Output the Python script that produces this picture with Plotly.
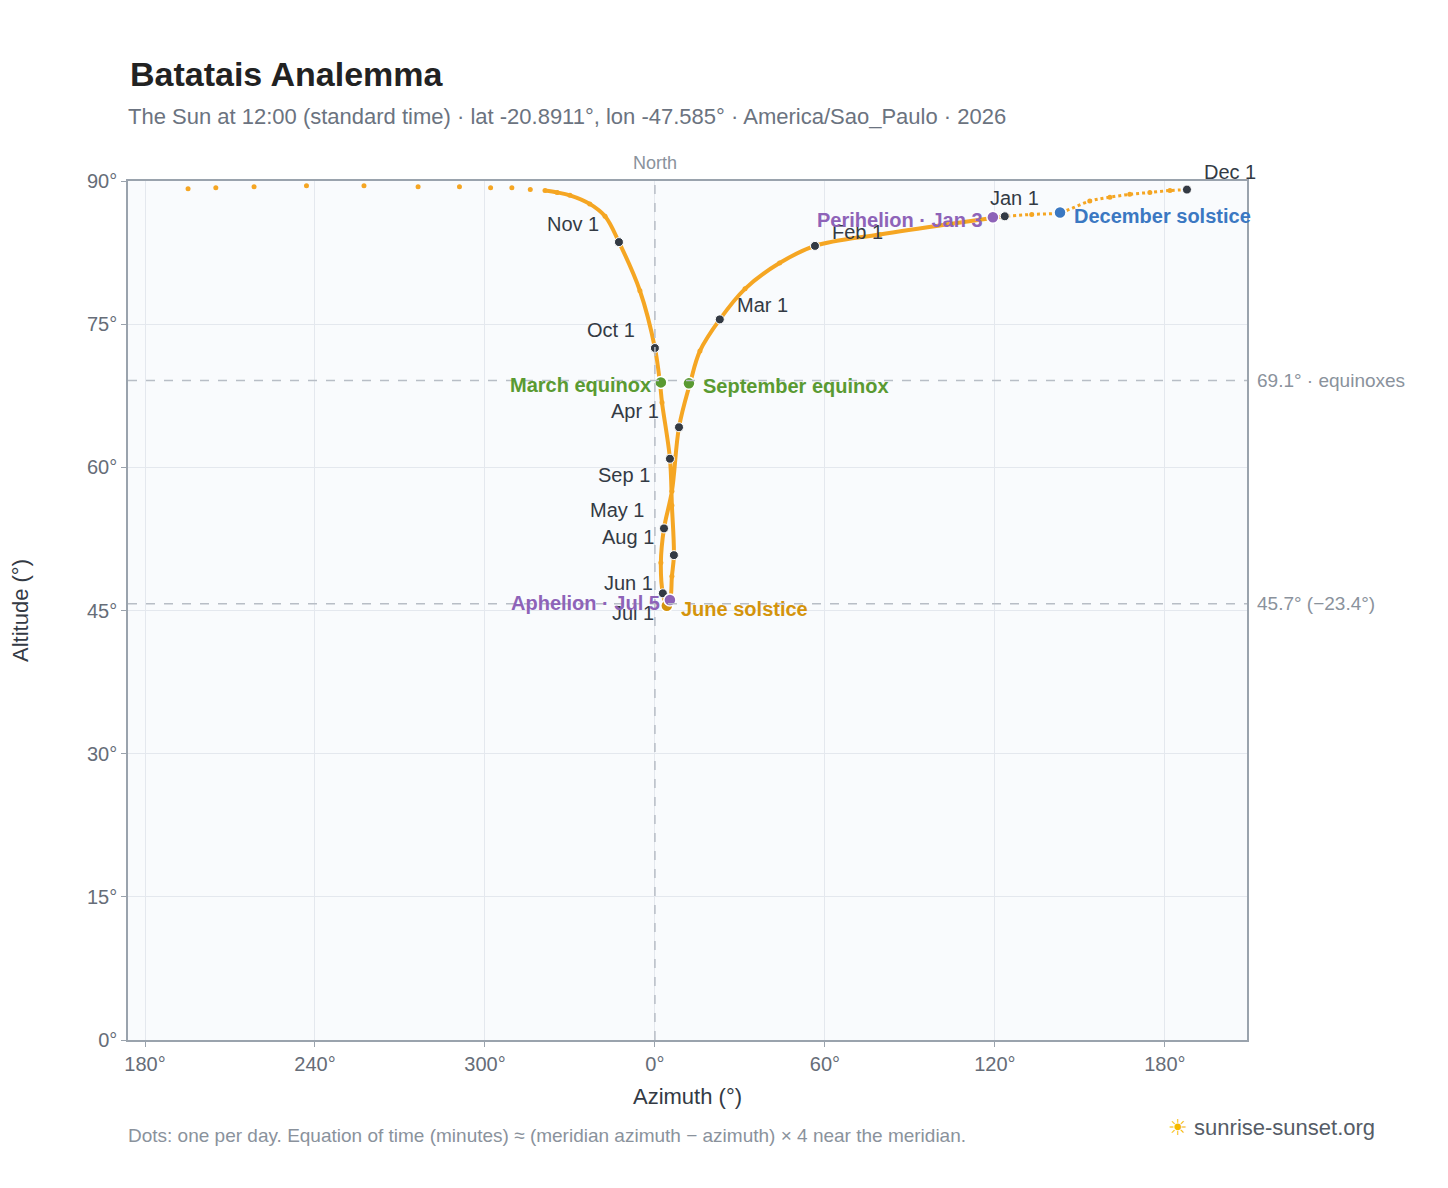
import plotly.graph_objects as go

# path through the year (unwrapped azimuth for plotting, altitude)
path_az = [123.5, 104, 79.4, 56.5, 44, 31.8, 22.9, 15.9, 12.4, 8.5, 6.0, 3.2, 2.1, 2.8, 4.2, 4.6, 5.3, 6.0, 6.7, 6.0, 5.3, 2.5, 1.8, 0.0, -5.3, -12.7,
           -17.6, -23, -30, -34.5, -38.8]
path_alt = [86.3, 85.5, 84.4, 83.2, 81.4, 78.7, 75.5, 72.2, 68.8, 64.2, 57.5, 53.6, 50.0, 46.8, 45.5, 46.0, 46.1, 48.6, 50.8, 56.0, 60.9, 66.8, 68.8, 72.5, 78.5, 83.6,
            86.3, 87.6, 88.5, 88.8, 89.0]
nov_az = [-44, -50.5, -58, -69, -83.6, -102.7, -123, -141.5, -155, -164.8]
nov_alt = [89.1, 89.3, 89.3, 89.4, 89.4, 89.5, 89.5, 89.4, 89.3, 89.2]
dec_az = [187.8, 181.8, 174.7, 167.6, 160.6, 153.5, 143.0, 133, 123.5]
dec_alt = [89.1, 89.0, 88.8, 88.6, 88.3, 87.9, 86.7, 86.5, 86.3]

month_labels = ["Jan 1", "Feb 1", "Mar 1", "Apr 1", "May 1", "Jun 1", "Jul 1", "Aug 1", "Sep 1", "Oct 1", "Nov 1", "Dec 1"]
month_az = [123.5, 56.5, 22.9, 8.5, 3.2, 2.8, 4.6, 6.7, 5.3, 0.0, -12.7, 187.8]
month_alt = [86.3, 83.2, 75.5, 64.2, 53.6, 46.8, 46.0, 50.8, 60.9, 72.5, 83.6, 89.1]
label_pos = [(10, -18, "center"), (15, -14, "left"), (15, -14, "left"), (-18, -16, "right"), (-18, -18, "right"),
             (-8, -10, "right"), (-12, 12, "right"), (-18, -18, "right"), (-18, 16, "right"), (-18, -18, "right"), (-18, -18, "right"), (15, -18, "left")]

events = ["March equinox", "September equinox", "June solstice", "December solstice", "Perihelion · Jan 3", "Aphelion · Jul 5"]
ev_az = [2.1, 12.0, 4.2, 143.0, 119.3, 5.3]
ev_alt = [68.9, 68.8, 45.5, 86.7, 86.2, 46.1]
ev_col = ["#5a9a32", "#5a9a32", "#d4940c", "#3b78c2", "#8e63b8", "#8e63b8"]
ev_side = ["right", "left", "left", "left", "right", "right"]

fig = go.Figure()
fig.add_trace(go.Scatter(x=path_az, y=path_alt, mode="lines+markers", line=dict(color="#f5a623", width=4, shape="spline"),
                         marker=dict(color="#f5a623", size=5), hoverinfo="skip", showlegend=False))
fig.add_trace(go.Scatter(x=dec_az, y=dec_alt, mode="lines+markers", line=dict(color="#f5a623", width=3, shape="spline", dash="dot"),
                         marker=dict(color="#f5a623", size=5), hoverinfo="skip", showlegend=False))
fig.add_trace(go.Scatter(x=nov_az, y=nov_alt, mode="markers", marker=dict(color="#f5a623", size=5), hoverinfo="skip", showlegend=False))
fig.add_trace(go.Scatter(x=month_az, y=month_alt, mode="markers", marker=dict(color="#333a44", size=9, line=dict(color="white", width=1)), showlegend=False))
fig.add_trace(go.Scatter(x=ev_az, y=ev_alt, mode="markers", marker=dict(color=ev_col, size=12, line=dict(color="white", width=1.5)), showlegend=False))

for t, x, y, (dx, dy, al) in zip(month_labels, month_az, month_alt, label_pos):
    fig.add_annotation(x=x, y=y, text=t, showarrow=False, xshift=dx, yshift=-dy, xanchor=al,
                       font=dict(size=20, color="#333a44"))
for t, x, y, c, s in zip(events, ev_az, ev_alt, ev_col, ev_side):
    fig.add_annotation(x=x, y=y, text="<b>%s</b>" % t, showarrow=False, xanchor=s, xshift=(-8 if s == "right" else 12),
                       yshift=-3, font=dict(size=20, color=c))

for yv, txt in [(69.1, "69.1° · equinoxes"), (45.7, "45.7° (−23.4°)")]:
    fig.add_shape(type="line", xref="paper", x0=0, x1=1, y0=yv, y1=yv, line=dict(color="#b8bec6", width=1.5, dash="dash"))
    fig.add_annotation(xref="paper", x=1, y=yv, text=txt, showarrow=False, xanchor="left", xshift=8,
                       font=dict(size=19, color="#8a929c"))
fig.add_shape(type="line", x0=0, x1=0, yref="paper", y0=0, y1=1, line=dict(color="#b8bec6", width=1.5, dash="dash"))
fig.add_annotation(x=0, yref="paper", y=1, text="North", showarrow=False, yanchor="bottom", yshift=6, font=dict(size=18, color="#8a929c"))

fig.add_annotation(xref="paper", yref="paper", x=0, y=1, xshift=0, yshift=86, xanchor="left", yanchor="bottom",
                   text="<b>Batatais Analemma</b>", showarrow=False, font=dict(size=34, color="#222"))
fig.add_annotation(xref="paper", yref="paper", x=0, y=1, xshift=-2, yshift=50, xanchor="left", yanchor="bottom",
                   text="The Sun at 12:00 (standard time) · lat -20.8911°, lon -47.585° · America/Sao_Paulo · 2026",
                   showarrow=False, font=dict(size=22, color="#6b7380"))
fig.add_annotation(xref="paper", yref="paper", x=0, y=0, xshift=-2, yshift=-108, xanchor="left", yanchor="bottom",
                   text="Dots: one per day. Equation of time (minutes) ≈ (meridian azimuth − azimuth) × 4 near the meridian.",
                   showarrow=False, font=dict(size=19, color="#8a929c"))
fig.add_annotation(xref="paper", yref="paper", x=1, y=0, xshift=130, yshift=-102, xanchor="right", yanchor="bottom",
                   text="<span style='color:#f5b800'>☀</span> sunrise-sunset.org", showarrow=False, font=dict(size=22, color="#555c66"))

fig.update_layout(width=1448, height=1188, margin=dict(l=120, r=209, t=173, b=156, autoexpand=False),
                  paper_bgcolor="white", plot_bgcolor="#f9fbfd", font=dict(family="Liberation Sans, Arial", color="#555c66"))
fig.update_xaxes(range=[-186, 209], tickvals=[-180, -120, -60, 0, 60, 120, 180],
                 ticktext=["180°", "240°", "300°", "0°", "60°", "120°", "180°"], gridcolor="#e4e8ee",
                 showline=True, linecolor="#9aa3ad", linewidth=1.5, mirror=True, zeroline=False, automargin=False,
                 ticks="outside", ticklen=5, tickcolor="#9aa3ad", tickfont=dict(size=20, color="#666d78"),
                 title=dict(text="Azimuth (°)", font=dict(size=22, color="#333a44"), standoff=15))
fig.update_yaxes(range=[0, 90], tickvals=[0, 15, 30, 45, 60, 75, 90], ticktext=["0°", "15°", "30°", "45°", "60°", "75°", "90°"],
                 gridcolor="#e4e8ee", automargin=False,
                 showline=True, linecolor="#9aa3ad", linewidth=1.5, mirror=True, zeroline=False,
                 ticks="outside", ticklen=5, tickcolor="#9aa3ad", tickfont=dict(size=20, color="#666d78"),
                 title=dict(text="Altitude (°)", font=dict(size=22, color="#333a44"), standoff=60))
fig.write_html("out.html")
